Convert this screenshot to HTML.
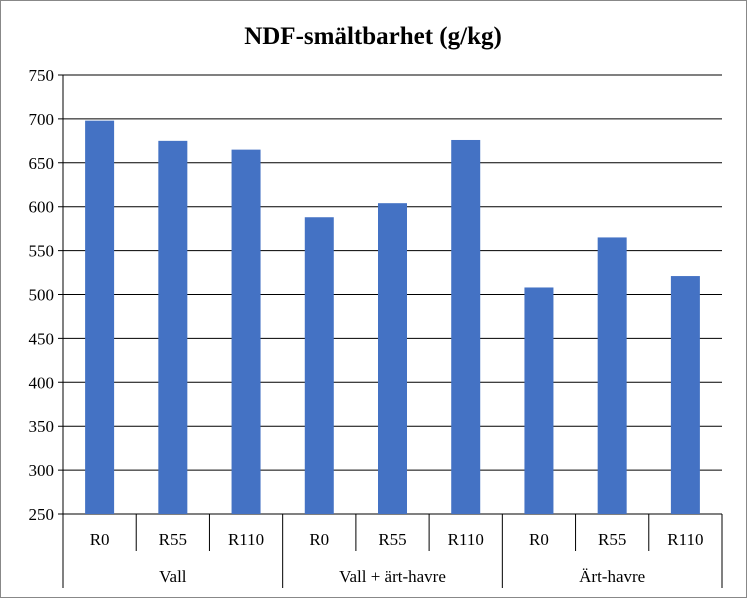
<!DOCTYPE html>
<html><head><meta charset="utf-8"><style>
body{margin:0;background:#fff}
svg{display:block;font-family:"Liberation Serif",serif}
</style></head><body>
<svg id="chart" width="747" height="599">
<rect x="0.5" y="0.5" width="746" height="597" fill="#fff" stroke="#888"/>
<text x="373" y="44" text-anchor="middle" font-size="25" font-weight="bold">NDF-smältbarhet  (g/kg)</text>
<g id="grid"></g><g id="bars"></g><g id="axes"></g>
</svg>
<script>
const categories=["R0","R55","R110","R0","R55","R110","R0","R55","R110"];
const groups=["Vall","Vall + ärt-havre","Ärt-havre"];
const values=[698,675,665,588,604,676,508,565,521];
const ticks=[250,300,350,400,450,500,550,600,650,700,750];
const NS="http://www.w3.org/2000/svg";
const L=63,R=722,T=75,B=514,ymin=250,ymax=750;
const y=v=>B-(v-ymin)/(ymax-ymin)*(B-T);
const step=(R-L)/categories.length;
const x=i=>L+step*(i+0.5);
function mk(tag,attrs,parent,text){const e=document.createElementNS(NS,tag);for(const k in attrs)e.setAttribute(k,attrs[k]);if(text!==undefined)e.textContent=text;document.getElementById(parent).appendChild(e);return e;}
ticks.forEach(t=>{
 const g=mk('line',{x1:L-5,x2:R,y1:y(t),y2:y(t),stroke:t===ymin?'#000':'#000','stroke-width':1},'grid');
 
 
 const tx=mk('text',{x:L-9,y:y(t)+6,'text-anchor':'end','font-size':17},'axes',t);
 
 
});
const ax=mk('line',{x1:L,x2:L,y1:T,y2:B,stroke:'#000'},'axes');


values.forEach((v,i)=>{
 const b=mk('rect',{x:x(i)-14.5,y:y(v),width:29,height:B-y(v),fill:'#4472C4'},'bars');
 
 
 const t=mk('text',{x:x(i),y:545,'text-anchor':'middle','font-size':17},'axes',categories[i]);
 
 
});
for(let i=0;i<=categories.length;i++){
 const xx=L+step*i;const big=i%3===0;
 const l=mk('line',{x1:xx,x2:xx,y1:B,y2:big?588:551,stroke:'#000'},'axes');
 
 
}
groups.forEach((g,j)=>{
 const t=mk('text',{x:L+step*(3*j+1.5),y:582,'text-anchor':'middle','font-size':17},'axes',g);
 
 
});
</script>
</body></html>
